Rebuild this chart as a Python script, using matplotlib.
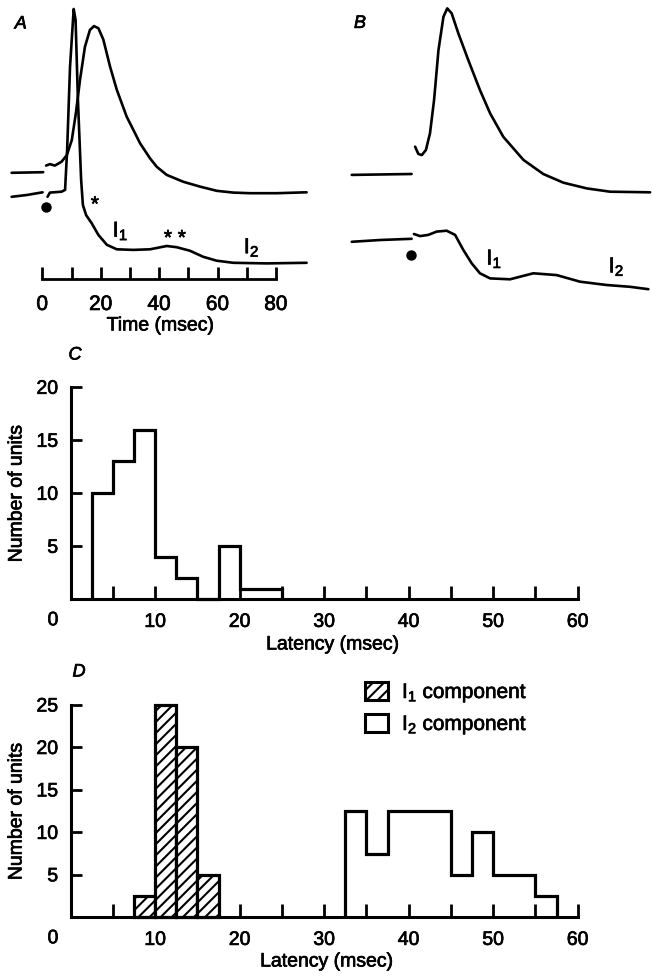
import numpy as np
import matplotlib
matplotlib.use("Agg")
import matplotlib.pyplot as plt
from matplotlib.patches import Patch
from matplotlib.text import Text
import matplotlib.patheffects as pe

plt.rcParams['font.family'] = ['Liberation Sans', 'DejaVu Sans']
plt.rcParams['hatch.linewidth'] = 1.5
plt.rcParams['mathtext.default'] = 'regular'

# ---------------- traces (time in msec, amplitude in arbitrary units) ----------------
# Panel A, upper trace
a_up_t1 = [-10.5, 0.3]
a_up_v1 = [35.4, 35.6]
a_up_t2 = [1.3, 2.6, 4.3, 6.6, 8.4, 10.1, 11.5, 12.9, 14.6, 16.3, 17.7, 19.2, 20.9,
           23.2, 25.5, 28.9, 33.5, 36.9, 39.2, 42.6, 48.3, 54.0, 59.7, 65.4, 71.1, 80.3, 90.5]
a_up_v2 = [37.8, 38.3, 37.8, 39.1, 41.3, 46.3, 55.3, 66.3, 77.4, 83.0, 84.3, 83.6, 79.8,
           70.8, 63.1, 54.1, 45.2, 40.2, 37.4, 34.7, 32.4, 30.8, 29.4, 28.8, 28.6, 28.6, 28.9]
# Panel A, lower trace
a_lo_t1 = [-10.5, -5.3, 0.1]
a_lo_v1 = [27.4, 28.0, 28.9]
a_lo_t2 = [1.8, 2.6, 6.6, 7.8, 8.5, 9.5, 10.75, 11.4, 12.2, 13.3, 13.9, 15.0, 16.9, 19.2,
           22.1, 25.5, 31.2, 36.9, 42.6, 46.0, 50.6, 55.1, 59.7, 65.4, 76.8, 90.5]
a_lo_v2 = [27.4, 28.8, 29.1, 29.7, 43.0, 70.8, 90.0, 86.3, 59.7, 33.0, 24.7, 21.3, 18.6, 14.7,
           11.4, 9.9, 9.7, 9.9, 11.0, 10.6, 9.4, 7.4, 6.1, 5.4, 5.2, 5.4]

# Panel B, upper trace
b_up_t1 = [-19.0, 1.5]
b_up_v1 = [34.7, 35.0]
b_up_t2 = [2.7, 3.8, 5.0, 6.4, 7.8, 9.2, 10.7, 12.4, 13.7, 15.2, 17.5, 20.9, 24.9, 28.4,
           32.9, 39.8, 46.6, 53.5, 61.5, 69.5, 83.2]
b_up_v2 = [44.1, 41.7, 41.3, 43.0, 48.6, 59.7, 76.3, 87.4, 90.2, 88.6, 81.9, 73.0, 63.0, 55.2,
           47.4, 39.7, 35.0, 32.1, 30.2, 29.1, 28.9]
# Panel B, lower trace
b_lo_t1 = [-19.0, -9.3, 1.5]
b_lo_v1 = [12.4, 13.0, 13.4]
b_lo_t2 = [2.3, 4.4, 7.2, 10.1, 13.5, 16.4, 19.2, 22.1, 24.9, 28.4, 35.2, 43.2, 51.2, 59.2,
           68.3, 76.3, 82.6]
b_lo_v2 = [15.0, 14.3, 14.7, 15.8, 16.1, 14.7, 9.7, 5.2, 1.9, 0.2, -0.1, 1.9, 1.3, -0.9,
           -2.0, -2.6, -3.4]

stim_time = 1.3

# ---------------- latency histograms ----------------
c_edges = [2.5, 5, 7.5, 10, 12.5, 15, 17.5, 20, 22.5, 25]
c_counts = [10, 13, 16, 4, 2, 0, 5, 1, 1]

d1_edges = [7.5, 10, 12.5, 15, 17.5]
d1_counts = [2.5, 25, 20, 5]

d2_edges = [32.5, 35, 37.5, 40, 42.5, 45, 47.5, 50, 52.5, 55, 57.5]
d2_counts = [12.5, 7.5, 12.5, 12.5, 12.5, 5, 10, 5, 5, 2.5]

W, H = 652, 976
fig = plt.figure(figsize=(W / 100, H / 100), dpi=100)


def px_axes(x0, y0, x1, y1):
    return fig.add_axes([x0 / W, 1 - y1 / H, (x1 - x0) / W, (y1 - y0) / H])


TRACE_LW = 1.9
LAB_FS = 14
TICK_FS = 14
SUB_FS = 15.5

# ---------------- panel A ----------------
ax_a = px_axes(11.05, 0, 310.1, 300)
ax_a.set_xlim(-10.7, 91.7)
ax_a.set_ylim(-7, 93)
for tt, vv in [(a_up_t1, a_up_v1), (a_up_t2, a_up_v2), (a_lo_t1, a_lo_v1), (a_lo_t2, a_lo_v2)]:
    ax_a.plot(tt, vv, color='black', lw=TRACE_LW, solid_capstyle='round',
              solid_joinstyle='round', clip_on=False)
ax_a.plot([stim_time], [24.1], 'o', color='black', ms=6.5)
ax_a.text(18.0, 24.6, '*', fontsize=15, ha='center', va='center')
ax_a.text(45.4, 13.4, '* *', fontsize=15, ha='center', va='center')
ax_a.text(26.8, 16.0, r'$\mathregular{I_1}$', fontsize=SUB_FS, ha='center', va='center')
ax_a.text(71.7, 10.5, r'$\mathregular{I_2}$', fontsize=SUB_FS, ha='center', va='center')
ax_a.text(-7.4, 85, 'A', fontsize=13, style='italic', ha='center', va='center')
for s in ['top', 'right', 'left']:
    ax_a.spines[s].set_visible(False)
ax_a.spines['bottom'].set_position(('data', 0))
ax_a.spines['bottom'].set_bounds(0, 80)
ax_a.spines['bottom'].set_linewidth(2.0)
ax_a.set_yticks([])
a_ticks = np.arange(0, 81, 10)
ax_a.set_xticks(a_ticks)
ax_a.set_xticklabels([str(v) if v % 20 == 0 else '' for v in a_ticks], fontsize=15)
ax_a.tick_params(axis='x', direction='in', length=9, width=2.0, pad=11.5)
ax_a.set_xlabel('Time (msec)', fontsize=LAB_FS, va='center')
ax_a.xaxis.set_label_coords(40.5 / 102.4 + 10.7 / 102.4, (300 - 326) / 300)
ax_a.patch.set_visible(False)

# ---------------- panel B ----------------
ax_b = px_axes(350.3, 0, 651.3, 300)
ax_b.set_xlim(-19.5, 83.6)
ax_b.set_ylim(-7, 93)
for tt, vv in [(b_up_t1, b_up_v1), (b_up_t2, b_up_v2), (b_lo_t1, b_lo_v1), (b_lo_t2, b_lo_v2)]:
    ax_b.plot(tt, vv, color='black', lw=TRACE_LW, solid_capstyle='round',
              solid_joinstyle='round', clip_on=False)
ax_b.plot([stim_time], [8.0], 'o', color='black', ms=6.5)
ax_b.text(29.8, 6.7, r'$\mathregular{I_1}$', fontsize=SUB_FS, ha='center', va='center')
ax_b.text(71.7, 4.1, r'$\mathregular{I_2}$', fontsize=SUB_FS, ha='center', va='center')
ax_b.text(-16.2, 85.2, 'B', fontsize=13, style='italic', ha='center', va='center')
ax_b.axis('off')


# ---------------- histogram panels ----------------
def style_hist(ax, ymax):
    ax.set_xlim(0, 60)
    ax.set_ylim(0, ymax)
    for s in ['top', 'right']:
        ax.spines[s].set_visible(False)
    for s in ['left', 'bottom']:
        ax.spines[s].set_linewidth(2.2)
    ax.spines['bottom'].set_bounds(0, 60)
    ax.spines['left'].set_bounds(0, ymax)
    xt = np.arange(5, 61, 5)
    ax.set_xticks(xt)
    ax.set_xticklabels([str(v) if v % 10 == 0 else '' for v in xt], fontsize=TICK_FS)
    yt = np.arange(5, ymax + 1, 5)
    ax.set_yticks(yt)
    ax.set_yticklabels([str(v) for v in yt], fontsize=TICK_FS)
    ax.tick_params(axis='x', direction='in', length=9.5, width=2.0, pad=10.5)
    ax.tick_params(axis='y', direction='in', length=8, width=2.0, pad=9)
    ax.annotate('0', xy=(0, 0), xytext=(-17.7, -21.5), textcoords='offset pixels',
                ha='center', va='center', fontsize=TICK_FS)
    ax.set_xlabel('Latency (msec)', fontsize=LAB_FS, va='center')
    ax.set_ylabel('Number of units', fontsize=LAB_FS, va='center')
    ax.yaxis.set_label_coords(-0.106, 0.5)
    ax.patch.set_visible(False)


ax_c = px_axes(70.7, 387.3, 577.7, 599.3)
style_hist(ax_c, 20)
ax_c.stairs(c_counts, c_edges, color='black', lw=2.3, clip_on=False)
ax_c.xaxis.set_label_coords((333 - 70.7) / 507, (599.3 - 645) / 212)
ax_c.text((75 - 70.7) / 507, (599.3 - 355) / 212, 'C', transform=ax_c.transAxes,
          fontsize=13, style='italic', ha='center', va='center')

ax_d = px_axes(70.7, 705, 577.7, 917.3)
style_hist(ax_d, 25)
d1_centers = [(a + b) / 2 for a, b in zip(d1_edges[:-1], d1_edges[1:])]
d1_widths = [b - a for a, b in zip(d1_edges[:-1], d1_edges[1:])]
ax_d.bar(d1_centers, d1_counts, width=d1_widths, facecolor='white', edgecolor='black',
         hatch='///', lw=2.3, clip_on=False)
ax_d.stairs(d2_counts, d2_edges, color='black', lw=2.3, clip_on=False)
ax_d.xaxis.set_label_coords((327 - 70.7) / 507, (917.3 - 962) / 212.3)
ax_d.text((79 - 70.7) / 507, (917.3 - 672) / 212.3, 'D', transform=ax_d.transAxes,
          fontsize=13, style='italic', ha='center', va='center')

LEG_FS = 15
LEG_PX = LEG_FS * 100 / 72
handles = [Patch(facecolor='white', edgecolor='black', hatch='///', lw=2.2),
           Patch(facecolor='white', edgecolor='black', lw=2.2)]
fig.legend(handles, [r'$\mathregular{I_1}$ component', r'$\mathregular{I_2}$ component'],
           loc='upper left', bbox_to_anchor=(365 / W, 1 - 682 / H), frameon=False,
           fontsize=LEG_FS, borderpad=0, borderaxespad=0, handlelength=23 / LEG_PX,
           handleheight=19 / LEG_PX, handletextpad=14 / LEG_PX, labelspacing=0.48)

# slightly heavier lettering, like the printed figure
for t in fig.findobj(Text):
    t.set_path_effects([pe.withStroke(linewidth=0.5, foreground='black')])

fig.savefig('out.png', dpi=100)
